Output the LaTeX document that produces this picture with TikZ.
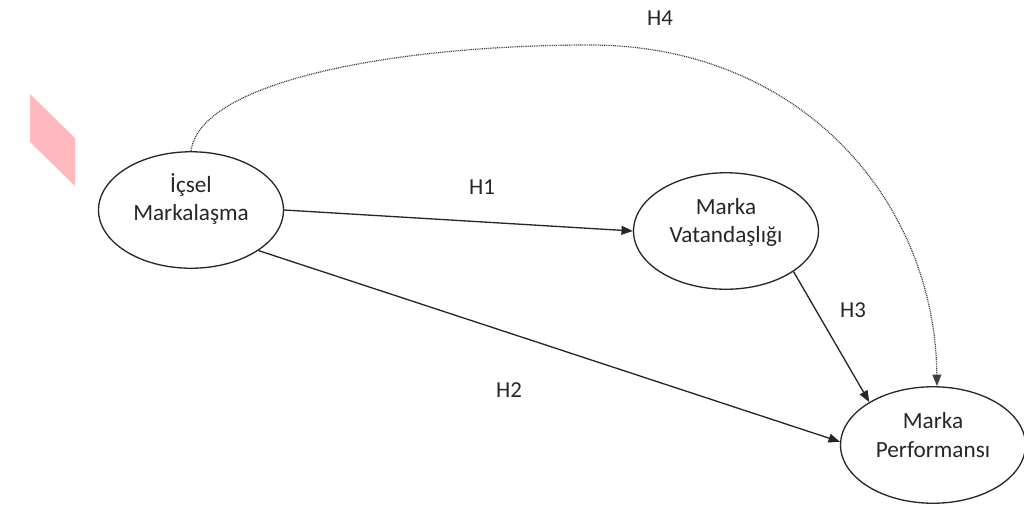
\documentclass[tikz,border=0pt]{standalone}
\usepackage{fontspec}
\setmainfont{Carlito}
\usepackage{tikz}
\usetikzlibrary{arrows.meta,shapes.geometric}
\definecolor{markpink}{RGB}{255,185,190}
\tikzset{lbl/.style={draw=none, fill=none, inner sep=1pt,
  font=\fontsize{13pt}{15pt}\selectfont, text=black!85}}

\begin{document}
\begin{tikzpicture}[x=0.02cm, y=-0.02cm, >={Triangle[length=6.5pt,width=5pt]},
  line width=0.75pt,
  ell/.style={ellipse, draw=black!85, minimum width=3.7cm,
    minimum height=2.33cm, inner sep=0pt},
  txt/.style={lbl, align=center, font=\fontsize{13.2pt}{16pt}\selectfont},
  path/.style={->, draw=black!85},
  dotpath/.style={->, draw=black!75, line width=0.7pt,
    dash pattern=on 0.55pt off 0.5pt}]
  \useasboundingbox (0,0) rectangle (1024,504);
  % pink mark at the left
  \fill[markpink] (30,94) -- (75,138) -- (75,186) -- (30,142) -- cycle;
  % constructs
  \node[ell] (im) at (191,210) {};
  \node[txt] (imt) at (191,199) {İçsel\\Markalaşma};
  \node[ell] (mv) at (726,231) {};
  \node[txt] (mvt) at (726,222) {Marka\\Vatandaşlığı};
  \node[ell] (mp) at (933,445) {};
  \node[txt] (mpt) at (933,435) {Marka\\Performansı};
  % hypotheses
  \draw[path] (im.0) -- (mv.180);
  \draw[path] (im.-31) -- (mp.178);
  \draw[path] (mv.-31) -- (mp.146);
  \coordinate (top) at (590,45);
  \draw[dotpath] (im.north) .. controls (200,80) and (400,45) .. (top)
    .. controls (800,45) and (935,200) .. ([xshift=0.08cm]mp.north);
  % labels
  \node[lbl] (h1) at (482,187) {H1};
  \node[lbl] (h2) at (509,390) {H2};
  \node[lbl] (h3) at (853,310) {H3};
  \node[lbl] (h4) at (660,18) {H4};
\end{tikzpicture}
\end{document}
